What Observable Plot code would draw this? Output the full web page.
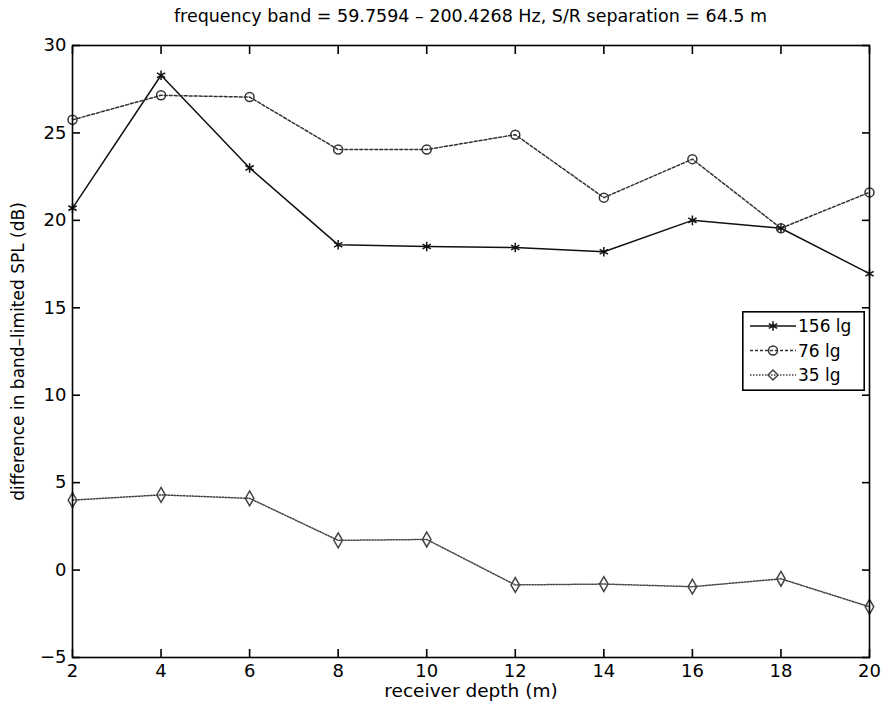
<!DOCTYPE html>
<html><head><meta charset="utf-8">
<script src="https://cdn.jsdelivr.net/npm/d3@7"></script>
<script src="https://cdn.jsdelivr.net/npm/@observablehq/plot@0.6"></script>
<style>
body{margin:0;background:#fff;font-family:"DejaVu Sans",sans-serif;}
#wrap{position:relative;width:889px;height:711px;overflow:hidden;}
#title{height:30px;line-height:32px;font-size:17.5px;text-align:center;padding-left:72px;padding-right:20px;box-sizing:border-box;width:889px;white-space:nowrap;color:#000;}
#legend{position:absolute;left:742px;top:311px;}
</style></head>
<body>
<div id="wrap">
<div id="title">frequency band = 59.7594 – 200.4268 Hz, S/R separation = 64.5 m</div>
<div id="chart"></div>
<div id="legend"></div>
</div>
<script>
const depth = [2, 4, 6, 8, 10, 12, 14, 16, 18, 20];
const lg156 = [20.7, 28.3, 23.0, 18.6, 18.5, 18.45, 18.2, 20.0, 19.55, 16.95];
const lg76  = [25.75, 27.15, 27.05, 24.05, 24.05, 24.9, 21.3, 23.5, 19.55, 21.6];
const lg35  = [4.0, 4.3, 4.1, 1.7, 1.75, -0.85, -0.8, -0.95, -0.5, -2.1];
const seriesNames = ["156 lg", "76 lg", "35 lg"];
const xTicks = [2, 4, 6, 8, 10, 12, 14, 16, 18, 20];
const yTicks = [-5, 0, 5, 10, 15, 20, 25, 30];
const xLabel = "receiver depth (m)";
const yLabel = "difference in band–limited SPL (dB)";

const styles = {
  "156 lg": {stroke: "#111", dash: null, symbol: "asterisk"},
  "76 lg": {stroke: "#333", dash: "3,2", symbol: "circle"},
  "35 lg": {stroke: "#444", dash: "1.5,1.5", symbol: "diamond"}
};
const seriesVals = [lg156, lg76, lg35];
const rows = [];
seriesNames.forEach((s, i) => depth.forEach((d, j) => rows.push({series: s, depth: d, value: seriesVals[i][j]})));

const lineMarks = seriesNames.map(s => Plot.line(rows.filter(r => r.series === s), {
  x: "depth", y: "value", stroke: styles[s].stroke, strokeWidth: 1.5, strokeDasharray: styles[s].dash
}));
const dotMarks = seriesNames.map(s => Plot.dot(rows.filter(r => r.series === s), {
  x: "depth", y: "value", stroke: styles[s].stroke, symbol: styles[s].symbol, r: 4.5, strokeWidth: 1.5, fill: "none"
}));

const chart = Plot.plot({
  width: 889, height: 681,
  marginTop: 15, marginBottom: 54, marginLeft: 72, marginRight: 20,
  style: {fontFamily: "DejaVu Sans, sans-serif", color: "#000", background: "#fff"},
  x: {domain: [2, 20]},
  y: {domain: [-5, 30]},
  marks: [
    ...lineMarks,
    ...dotMarks,
    Plot.frame({stroke: "#000", strokeWidth: 1.6}),
    Plot.axisX({anchor: "bottom", ticks: xTicks, tickSize: -8, tickPadding: 15, fontSize: 18, strokeWidth: 1.6, label: null, tickFormat: d => String(d)}),
    Plot.axisX({anchor: "top", ticks: xTicks, tickSize: -8, fontSize: 18, strokeWidth: 1.6, label: null, tickFormat: () => ""}),
    Plot.axisY({anchor: "left", ticks: yTicks, tickSize: -8, tickPadding: 14, fontSize: 18, strokeWidth: 1.6, label: null, tickFormat: d => (d < 0 ? "\u2212" + Math.abs(d) : String(d))}),
    Plot.axisY({anchor: "right", ticks: yTicks, tickSize: -8, fontSize: 18, strokeWidth: 1.6, label: null, tickFormat: () => ""}),
    Plot.text([xLabel], {text: d => d, frameAnchor: "bottom", textAnchor: "middle", dy: 34, fontSize: 18.5, lineAnchor: "middle"}),
    Plot.text([yLabel], {text: d => d, frameAnchor: "left", textAnchor: "middle", dx: -54, rotate: -90, fontSize: 17, lineAnchor: "middle"})
  ]
});
document.getElementById("chart").appendChild(chart);

// legend
const lw = 123, lh = 80;
const lsvg = d3.select("#legend").append("svg").attr("width", lw).attr("height", lh)
  .style("font-family", "DejaVu Sans, sans-serif");
lsvg.append("rect").attr("x", 0.8).attr("y", 0.8).attr("width", lw - 1.6).attr("height", lh - 1.6)
  .attr("fill", "#fff").attr("stroke", "#000").attr("stroke-width", 1.6);
seriesNames.forEach((s, i) => {
  const cy = 15 + i * 24.5;
  const st = styles[s];
  lsvg.append("line").attr("x1", 8).attr("x2", 54).attr("y1", cy).attr("y2", cy)
    .attr("stroke", st.stroke).attr("stroke-width", 1.5).attr("stroke-dasharray", st.dash);
  const sym = {asterisk: d3.symbolAsterisk, circle: d3.symbolCircle, diamond: d3.symbolDiamond2}[st.symbol];
  lsvg.append("path").attr("d", d3.symbol(sym, 64)()).attr("transform", `translate(31,${cy})`)
    .attr("fill", "none").attr("stroke", st.stroke).attr("stroke-width", 1.5);
  lsvg.append("text").attr("x", 56).attr("y", cy).attr("dy", "0.36em").attr("font-size", 17).text(s);
});
</script>
</body></html>
